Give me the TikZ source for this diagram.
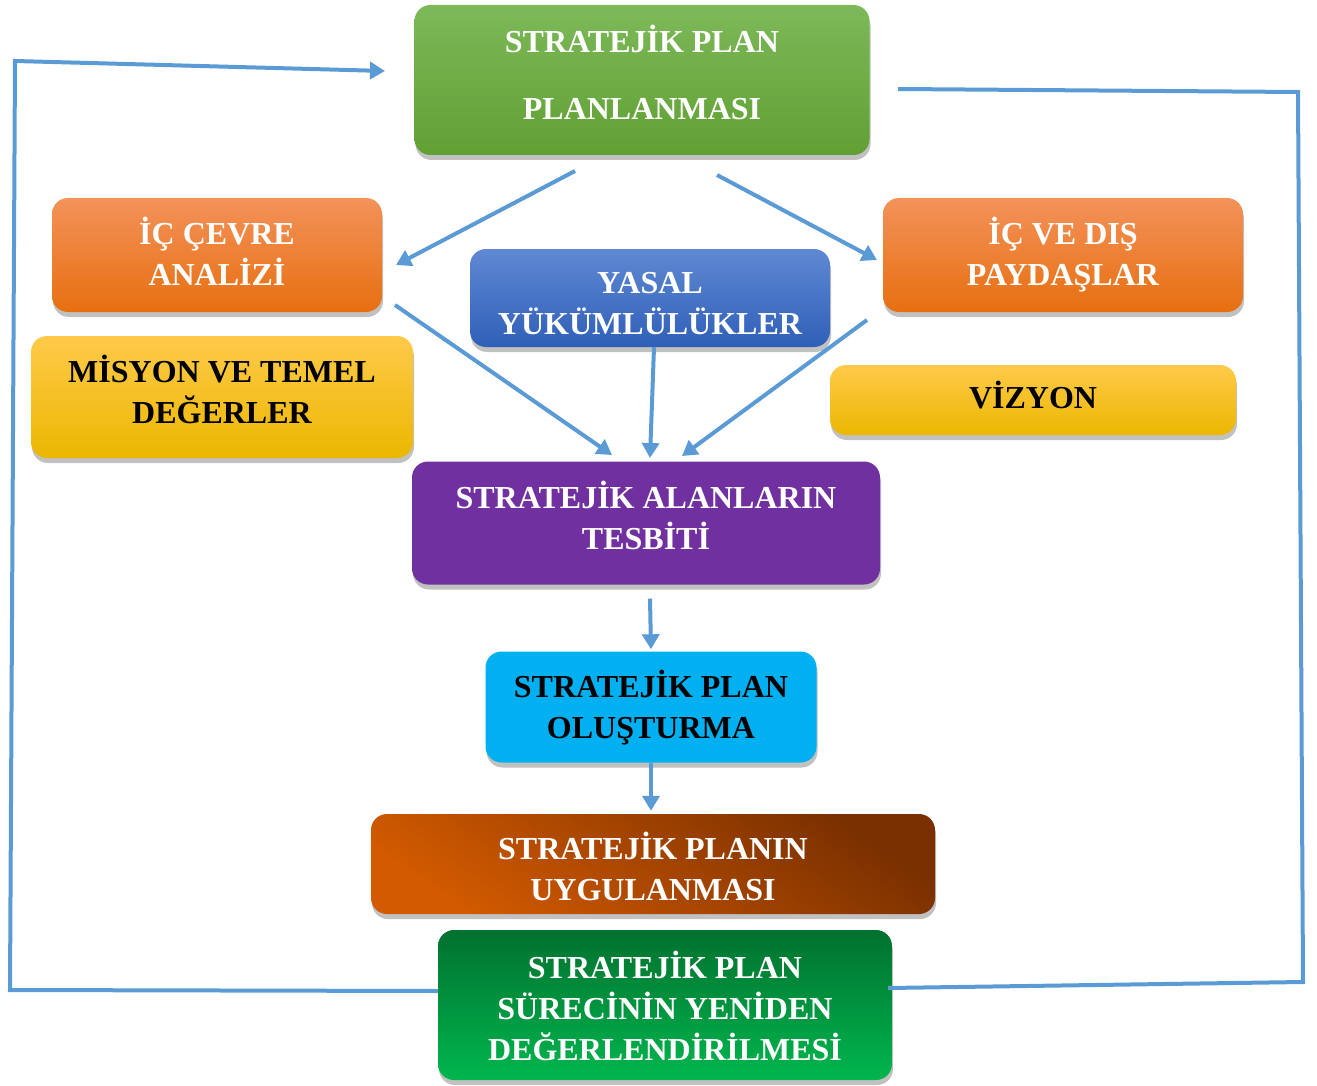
\documentclass[tikz,border=0pt]{standalone}
\usepackage{fontspec}
\setmainfont{Liberation Serif}
\usetikzlibrary{arrows.meta,shadows,calc}
\definecolor{arrowblue}{HTML}{5B9BD5}
\definecolor{gTop}{HTML}{7DB959}
\definecolor{gBot}{HTML}{60A033}
\definecolor{oTop}{HTML}{F3925A}
\definecolor{oBot}{HTML}{E76F10}
\definecolor{bTop}{HTML}{6089D3}
\definecolor{bBot}{HTML}{2F5FB8}
\definecolor{yTop}{HTML}{FFCA4A}
\definecolor{yBot}{HTML}{EBB700}
\definecolor{purp}{HTML}{7030A0}
\definecolor{cyanbox}{HTML}{00B0F0}
\definecolor{brDark}{HTML}{7A3000}
\definecolor{brLight}{HTML}{D25A00}
\definecolor{dgTop}{HTML}{00712F}
\definecolor{dgBot}{HTML}{00B64E}
\newcommand{\btext}[2][0pt]{\raisebox{#1}[\height][\depth]{\begin{tabular}{@{}c@{}}#2\end{tabular}}}
\begin{document}
\begin{tikzpicture}[x=1pt,y=-1pt,
  box/.style={rounded corners=16pt, inner sep=0pt, align=center,
    font=\fontsize{32}{41}\selectfont\bfseries, text=white,
    drop shadow={shadow xshift=1pt, shadow yshift=-5pt, opacity=0.35, fill=black!70}},
  flow/.style={draw=arrowblue, line width=4pt, -{Triangle[length=15pt,width=17pt]}},
  loopline/.style={draw=arrowblue, line width=4pt, line join=miter}]
\useasboundingbox (0,0) rectangle (1317,1086);

\node[box, top color=gTop, bottom color=gBot, minimum width=455pt, minimum height=150pt]
  (plan) at (642,80) {\btext[2pt]{STRATEJİK PLAN\\[26pt]PLANLANMASI}};
\node[box, top color=oTop, bottom color=oBot, minimum width=330pt, minimum height=114pt]
  (icevre) at (217,255) {\btext[-2pt]{İÇ ÇEVRE\\ANALİZİ}};
\node[box, top color=bTop, bottom color=bBot, minimum width=360pt, minimum height=98pt]
  (yasal) at (650,298) {\btext[-7.5pt]{YASAL\\YÜKÜMLÜLÜKLER}};
\node[box, top color=oTop, bottom color=oBot, minimum width=360pt, minimum height=114pt]
  (paydas) at (1063,255) {\btext[-1.5pt]{İÇ VE DIŞ\\PAYDAŞLAR}};
\node[box, text=black, top color=yTop, bottom color=yBot, minimum width=382pt, minimum height=122pt]
  (misyon) at (222,397) {\btext[2.5pt]{MİSYON VE TEMEL\\DEĞERLER}};
\node[box, text=black, top color=yTop, bottom color=yBot, minimum width=406pt, minimum height=70pt]
  (vizyon) at (1033,400) {\btext{VİZYON}};
\node[box, fill=purp, minimum width=468pt, minimum height=123pt]
  (alan) at (646,523) {\btext[2.5pt]{STRATEJİK ALANLARIN\\TESBİTİ}};
\node[box, text=black, fill=cyanbox, minimum width=331pt, minimum height=111pt]
  (olustur) at (651,707) {\btext[-3pt]{STRATEJİK PLAN\\OLUŞTURMA}};
\node[box, top color=brDark, bottom color=brLight, shading angle=-35, minimum width=564pt, minimum height=100pt]
  (uygula) at (653,864) {\btext[-7.5pt]{STRATEJİK PLANIN\\UYGULANMASI}};
\node[box, top color=dgTop, bottom color=dgBot, minimum width=454pt, minimum height=150pt]
  (yeniden) at (665,1005) {\btext[-6pt]{STRATEJİK PLAN\\SÜRECİNİN YENİDEN\\DEĞERLENDİRİLMESİ}};

% free ends of connectors
\coordinate (p1) at (575,171);
\coordinate (p2) at (717,175);
\coordinate (e1) at (396,265);
\coordinate (e2) at (877,260);
\coordinate (s1) at (395,305);
\coordinate (s3) at (867,320);
\coordinate (t1) at (612,455);
\coordinate (t2) at (650,458);
\coordinate (t3) at (682,456);
\coordinate (LA) at (10,990);
\coordinate (LB) at (15,61);
\coordinate (LC) at (385,71);
\coordinate (RA) at (1303,982);
\coordinate (RB) at (1298,92);
\coordinate (RC) at (898,89);

\draw[flow] (p1) -- (e1);
\draw[flow] (p2) -- (e2);
\draw[flow] (s1) -- (t1);
\draw[flow] (yasal.south) ++(4,0) -- (t2);
\draw[flow] (s3) -- (t3);
\draw[flow] ($(alan.south)+(4,14)$) -- ($(olustur.north)+(0,-2)$);
\draw[flow] ($(olustur.south)+(0,0)$) -- ($(uygula.north)+(-2,-3)$);

\draw[loopline, -{Triangle[length=15pt,width=17pt]}] ($(yeniden.west)+(0,-14)$) -- (LA) -- (LB) -- (LC);
\draw[loopline] ($(yeniden.east)+(-4,-17)$) -- (RA) -- (RB) -- (RC);
\end{tikzpicture}
\end{document}
